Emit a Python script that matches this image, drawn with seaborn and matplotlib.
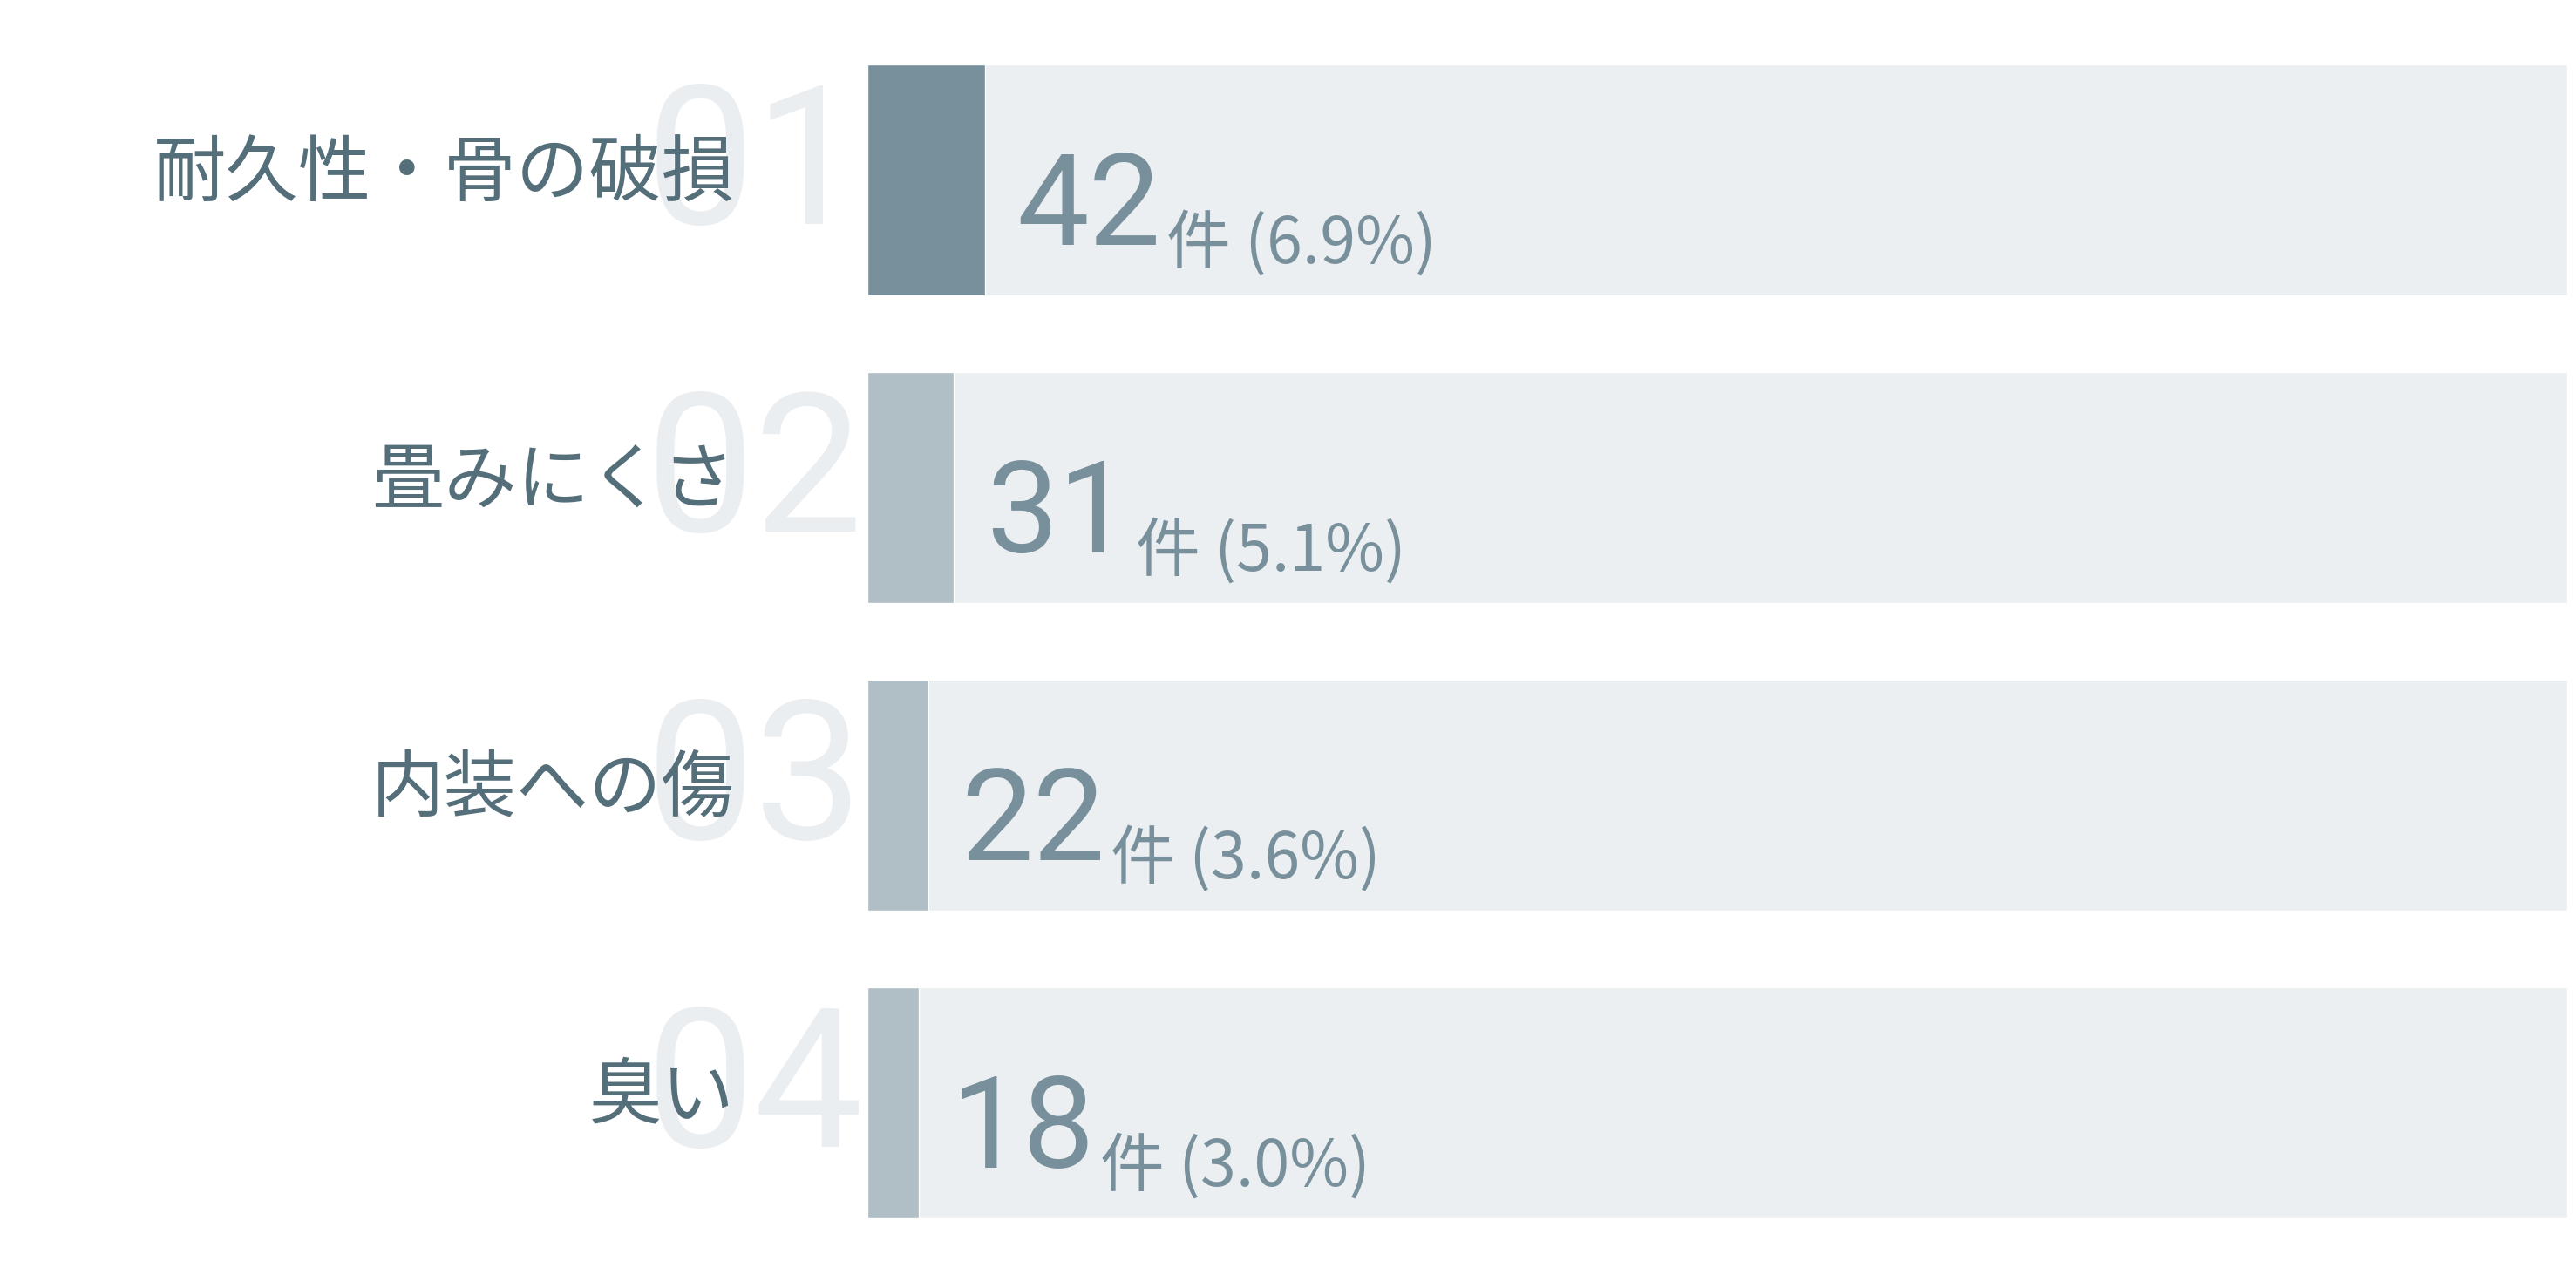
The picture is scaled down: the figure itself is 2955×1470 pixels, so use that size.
import matplotlib
matplotlib.use("Agg")
import matplotlib.pyplot as plt
import matplotlib.transforms as mtransforms
import seaborn as sns
import pandas as pd

# data
categories = ["耐久性・骨の破損", "畳みにくさ", "内装への傷", "臭い"]
counts = [42, 31, 22, 18]
shares = [6.9, 5.1, 3.6, 3.0]
ranks = ["01", "02", "03", "04"]

track_color = "#ECEFF1"
fill_colors = ["#78909C", "#B0BEC5", "#B0BEC5", "#B0BEC5"]
label_color = "#546E7A"
value_color = "#78909C"

sns.set_theme(style="white")
plt.rcParams["font.family"] = ["Noto Sans CJK JP", "DejaVu Sans"]

df = pd.DataFrame({"category": categories, "share": shares,
                   "track": [100] * len(categories)})

fig = plt.figure(figsize=(29.55, 14.70), dpi=100)
ax = fig.add_axes([995 / 2955, 0.019, 1950 / 2955, 0.9606])

sns.barplot(data=df, y="category", x="track", color=track_color,
            width=0.75, ax=ax, saturation=1)
sns.barplot(data=df, y="category", x="share", hue="category",
            palette=fill_colors, legend=False, width=0.75, ax=ax,
            saturation=1)
ax.set_xlim(0, 100)
ax.set_ylim(3.5, -0.5)
ax.axis("off")

trans = mtransforms.blended_transform_factory(fig.transFigure, ax.transData)
renderer = fig.canvas.get_renderer()

for i, (cat, n, pct, rk) in enumerate(zip(categories, counts, shares, ranks)):
    # big ghost rank number behind the label
    ax.text(990 / 2955, i - 0.03, rk, transform=trans, ha="right",
            va="center", fontsize=160, color="#EBEEF1", family="Roboto",
            fontweight="normal", zorder=1, clip_on=False)
    ax.text(843 / 2955, i - 0.02, cat, transform=trans, ha="right",
            va="center", fontsize=60, color=label_color, zorder=2,
            clip_on=False)
    # value: big count + small unit / share
    big = ax.text(pct + 1.9, i + 0.21, str(n), ha="left", va="baseline",
                  fontsize=106, color=value_color, family="Roboto",
                  zorder=3)
    bb = big.get_window_extent(renderer=renderer)
    x_end = ax.transData.inverted().transform((bb.x1, 0))[0]
    ax.text(x_end + 0.3, i + 0.27, f"件 ({pct:.1f}%)", ha="left",
            va="baseline", fontsize=53, color=value_color, zorder=3,
            family=["Noto Sans CJK JP", "DejaVu Sans"])

fig.savefig("out.png", dpi=100, facecolor="white")
